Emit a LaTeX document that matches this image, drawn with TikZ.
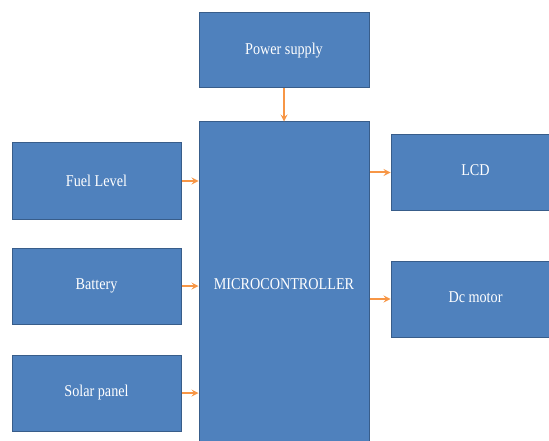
\documentclass[tikz,border=0pt]{standalone}
\usepackage{fontspec}
\setmainfont{Liberation Serif}
\definecolor{boxblue}{HTML}{4F81BD}
\definecolor{boxedge}{HTML}{385D8A}
\definecolor{feedorange}{HTML}{F79646}
\newcommand{\sqz}[1]{\scalebox{0.86}[1]{#1}}
\begin{document}
\begin{tikzpicture}[x=1pt, y=-1pt, >=stealth,
  blk/.style={draw=boxedge, line width=1pt, fill=boxblue, text=white,
    font=\fontsize{16.5}{19}\selectfont, inner sep=0pt},
  feed/.style={->, draw=feedorange, line width=2pt}]
\clip (0,0) rectangle (549,441);
% centre column
\node[blk, minimum width=170pt, minimum height=75pt] (pwr) at (284,50.5) {\sqz{Power supply}};
\node[blk, minimum width=170pt, minimum height=330pt] (mcu) at (284,287) {\raisebox{6pt}{\sqz{MICROCONTROLLER}}};
% inputs
\node[blk, minimum width=169pt, minimum height=76pt] (fuel) at (96.5,181) {\sqz{Fuel Level}};
\node[blk, minimum width=169pt, minimum height=76pt] (batt) at (96.5,286) {\sqz{Battery}};
\node[blk, minimum width=169pt, minimum height=76pt] (solar) at (96.5,393) {\sqz{Solar panel}};
% outputs
\node[blk, minimum width=169pt, minimum height=75pt] (lcd) at (475.5,172.5) {\raisebox{4pt}{\sqz{LCD}}};
\node[blk, minimum width=169pt, minimum height=76pt] (motor) at (475.5,299) {\raisebox{3pt}{\sqz{Dc motor}}};

\draw[feed] (pwr.south) -- (mcu.north);
\draw[feed] (fuel.east) -- (fuel.east -| mcu.west);
\draw[feed] (batt.east) -- (batt.east -| mcu.west);
\draw[feed] (solar.east) -- (solar.east -| mcu.west);
\draw[feed] (lcd.west -| mcu.east) -- (lcd.west);
\draw[feed] (motor.west -| mcu.east) -- (motor.west);
\end{tikzpicture}
\end{document}
